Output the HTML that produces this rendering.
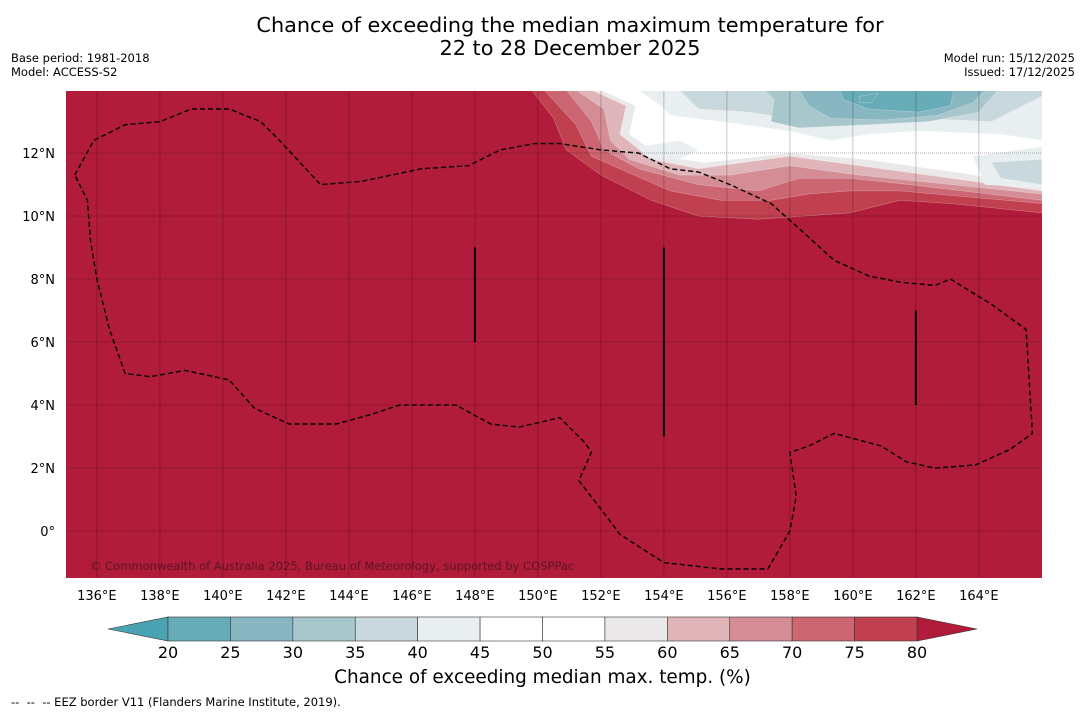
<!DOCTYPE html>
<html><head><meta charset="utf-8"><style>
body{margin:0;background:#fff;font-family:"DejaVu Sans","Liberation Sans",sans-serif;}
.t{position:absolute;color:#000;}
</style></head><body>
<div style="position:relative;width:1085px;height:713px;overflow:hidden;">
<div class="t" style="left:0;width:1140px;text-align:center;top:14px;font-size:20.8px;line-height:23px;">Chance of exceeding the median maximum temperature for<br>22 to 28 December 2025</div>
<div class="t" style="left:11px;top:51px;font-size:11.5px;line-height:14px;">Base period: 1981-2018<br>Model: ACCESS-S2</div>
<div class="t" style="right:10px;top:51px;font-size:11.5px;line-height:14px;text-align:right;">Model run: 15/12/2025<br>Issued: 17/12/2025</div>
<svg id="map" width="1085" height="713" style="position:absolute;left:0;top:0"></svg>
<div class="t" style="left:0;width:1085px;text-align:center;top:667px;font-size:18.4px;">Chance of exceeding median max. temp. (%)</div>
<div class="t" style="left:11px;top:695px;font-size:11.5px;">-- &nbsp;-- &nbsp;-- EEZ border V11 (Flanders Marine Institute, 2019).</div>
</div>
<script>
const lonTicks=[136,138,140,142,144,146,148,150,152,154,156,158,160,162,164];
const latTicks=[0,2,4,6,8,10,12];
const cbLevels=[20,25,30,35,40,45,50,55,60,65,70,75,80];
const cbColors=["#68acb8","#88b7c2","#a8c7cc","#c9d8dc","#e9eff1","#ffffff","#ffffff","#ebe8e9","#e0b5ba","#d48d94","#cc6672","#c0404f"];
const b75=[[149.8,14.0],[150.5,13.1],[150.9,12.1],[152.0,11.3],[153.6,10.5],[155.1,10.0],[157.0,9.9],[159.9,10.1],[161.5,10.5],[163.1,10.4],[166.0,10.1]];
const b70=[[150.2,14.0],[151.2,12.9],[151.7,11.9],[152.6,11.5],[154.2,10.8],[155.8,10.5],[157.4,10.5],[158.6,10.7],[159.9,10.8],[161.5,10.8],[166.0,10.4]];
const b65=[[150.9,14.0],[151.7,13.0],[152.1,12.1],[153.2,11.5],[155.1,11.0],[157.0,10.8],[158.3,11.2],[159.9,11.2],[161.8,11.0],[166.0,10.5]];
const b60=[[151.2,14.0],[152.1,13.4],[152.3,12.4],[152.9,11.8],[154.5,11.3],[156.1,11.3],[158.0,11.6],[160.2,11.3],[166.0,10.7]];
const b55=[[151.7,14.0],[152.8,13.5],[152.6,12.6],[153.6,11.8],[155.1,11.5],[158.0,11.9],[160.2,11.6],[166.0,10.8]];
const b50=[[152.0,14.0],[153.1,13.5],[152.9,12.6],[153.9,11.9],[155.3,11.7],[158.0,12.0],[160.4,11.8],[166.0,11.0]];
const b45=[[153.2,14.0],[153.9,13.5],[154.2,13.2],[155.8,13.0],[158.0,12.7],[159.3,12.4],[160.5,12.6],[162.1,12.7],[164.7,12.6],[166.0,12.4]];
const b40=[[154.5,14.0],[154.8,13.7],[155.1,13.4],[156.7,13.3],[158.6,13.0],[160.2,12.9],[162.1,13.1],[164.4,13.0],[165.2,13.4],[166.0,13.8]];
const b35=[[157.2,14.0],[157.5,13.7],[157.4,13.0],[158.3,12.8],[160.5,12.9],[162.4,13.0],[164.0,13.3],[164.6,14.0]];
const b30=[[158.3,14.0],[158.6,13.5],[159.3,13.1],[161.0,13.05],[162.7,13.2],[163.8,13.6],[164.2,14.0]];
const b25=[[159.6,14.0],[159.7,13.7],[160.5,13.4],[162.1,13.3],[163.1,13.5],[163.2,14.0]];
const blobs=[{c:"#e9eff1",p:[[153.2,12.2],[154.5,12.4],[155.1,12.1],[154.5,11.8],[153.4,11.9]]},
 {c:"#e9eff1",p:[[166.0,12.2],[163.8,11.9],[164.2,11.0],[166.0,10.9]]},
 {c:"#c9d8dc",p:[[166.0,11.8],[164.4,11.7],[164.7,11.2],[166.0,11.0]]},
 {c:"#68acb8",p:[[160.2,13.8],[160.8,13.9],[160.6,13.6],[160.2,13.6]]}];
const eez=[[135.3,11.3],[135.9,12.4],[136.9,12.9],[138.0,13.0],[139.0,13.4],[140.2,13.4],[141.2,13.0],[141.8,12.4],[143.1,11.0],[144.4,11.1],[146.3,11.5],[147.8,11.6],[148.2,11.8],[148.8,12.1],[149.9,12.3],[150.7,12.3],[152.0,12.1],[153.2,12.0],[154.2,11.5],[155.1,11.4],[156.1,11.0],[157.4,10.4],[158.3,9.6],[159.4,8.6],[160.5,8.1],[161.5,7.9],[162.6,7.8],[163.1,8.0],[164.4,7.2],[165.5,6.4],[165.7,3.1],[165.0,2.6],[163.9,2.1],[162.6,2.0],[161.7,2.2],[160.9,2.7],[159.4,3.1],[158.6,2.7],[158.0,2.5],[158.2,1.1],[158.0,0.0],[157.3,-1.2],[155.8,-1.2],[154.0,-1.0],[152.6,-0.1],[152.0,0.7],[151.3,1.6],[151.7,2.5],[151.5,2.8],[150.7,3.6],[149.4,3.3],[148.5,3.4],[147.4,4.0],[145.6,4.0],[144.7,3.7],[143.6,3.4],[142.1,3.4],[141.0,3.9],[140.2,4.8],[138.8,5.1],[137.7,4.9],[136.9,5.0],[136.4,6.4],[136.0,8.0],[135.8,9.2],[135.7,10.5],[135.3,11.3]];
const ridges=[[148,6,9],[154,3,9],[162,4,7]];
const L=66,R=1042,T=91,B=578;
const lon0=135.02,lat0=13.97,ppd=31.5;
const X=lon=>L+(lon-lon0)*ppd, Y=lat=>T+(lat0-lat)*ppd;
const svg=document.getElementById('map');const NS="http://www.w3.org/2000/svg";
const FF='DejaVu Sans, Liberation Sans, sans-serif';
function mk(tag,attrs,parent){const e=document.createElementNS(NS,tag);for(const k in attrs)e.setAttribute(k,attrs[k]);(parent||svg).appendChild(e);return e;}
const defs=mk('defs',{});const cp=mk('clipPath',{id:'clip'},defs);mk('rect',{x:L,y:T,width:R-L,height:B-T},cp);
const g=mk('g',{'clip-path':'url(#clip)'});
const bg=mk('rect',{x:L,y:T,width:R-L,height:B-T,fill:'#b01c3a'},g);


function band(pts,color,name,closeTop){
 let d=pts.map((p,i)=>(i?'L':'M')+X(p[0]).toFixed(1)+','+Y(p[1]).toFixed(1)).join(' ');
 if(closeTop) d+=' L'+(R+5)+','+(T-5)+' Z'; else d+=' Z';
 const p=mk('path',{d:d,fill:color,stroke:'#ffffff','stroke-width':0.4,'stroke-opacity':0.5},g);
 
 
}
band(b75,'#c0404f','band-75',true);
band(b70,'#cc6672','band-70',true);
band(b65,'#d48d94','band-65',true);
band(b60,'#e0b5ba','band-60',true);
band(b55,'#ebe8e9','band-55',true);
band(b50,'#ffffff','band-50',true);
band(b45,'#e9eff1','band-45',true);
band(b40,'#c9d8dc','band-40',true);
band(b35,'#a8c7cc','band-35',false);
band(b30,'#88b7c2','band-30',false);
band(b25,'#68acb8','band-25',false);
blobs.forEach((b,i)=>band(b.p,b.c,'blob-'+i,false));
lonTicks.forEach(v=>{const l=mk('line',{x1:X(v),x2:X(v),y1:T,y2:B,stroke:'#000','stroke-opacity':0.22,'stroke-width':1},g);
 
 });
latTicks.forEach(v=>{const l=mk('line',{x1:L,x2:R,y1:Y(v),y2:Y(v),stroke:'#000','stroke-opacity':0.3,'stroke-width':1,'stroke-dasharray':'1,1'},g);
 
 });
ridges.forEach(r=>{const l=mk('line',{x1:X(r[0]),x2:X(r[0]),y1:Y(r[2]),y2:Y(r[1]),stroke:'#000','stroke-width':2},g);
 
 });
const ez=mk('path',{d:eez.map((p,i)=>(i?'L':'M')+X(p[0]).toFixed(1)+','+Y(p[1]).toFixed(1)).join(' '),fill:'none',stroke:'#000','stroke-width':1.4,'stroke-dasharray':'5,3'},g);


const cr=mk('text',{x:90,y:570,'font-size':11.5,fill:'#5c1526','font-family':FF},g);cr.textContent='© Commonwealth of Australia 2025, Bureau of Meteorology, supported by COSPPac';


lonTicks.forEach(v=>{const t=mk('text',{x:X(v),y:600,'font-size':13,'text-anchor':'middle','font-family':FF});t.textContent=v+'°E';
 
 });
latTicks.forEach(v=>{const t=mk('text',{x:55,y:Y(v)+5,'font-size':13,'text-anchor':'end','font-family':FF});t.textContent=v===0?'0°':v+'°N';
 
 });
const cx0=168,cx1=917,cy0=617,cy1=641,n=cbColors.length,w=(cx1-cx0)/n;
const lt=mk('polygon',{points:`108,629 ${cx0},${cy0} ${cx0},${cy1}`,fill:'#4aa3b2',stroke:'#333','stroke-width':0.6});


const rt=mk('polygon',{points:`977,629 ${cx1},${cy0} ${cx1},${cy1}`,fill:'#b01c3a',stroke:'#333','stroke-width':0.6});


cbColors.forEach((c,i)=>{const r=mk('rect',{x:cx0+i*w,y:cy0,width:w,height:cy1-cy0,fill:c,stroke:'#333','stroke-width':0.6});
 
 });
cbLevels.forEach((v,i)=>{const t=mk('text',{x:cx0+i*w,y:658,'font-size':16,'text-anchor':'middle','font-family':FF});t.textContent=v;
 
 });
</script>
</body></html>
